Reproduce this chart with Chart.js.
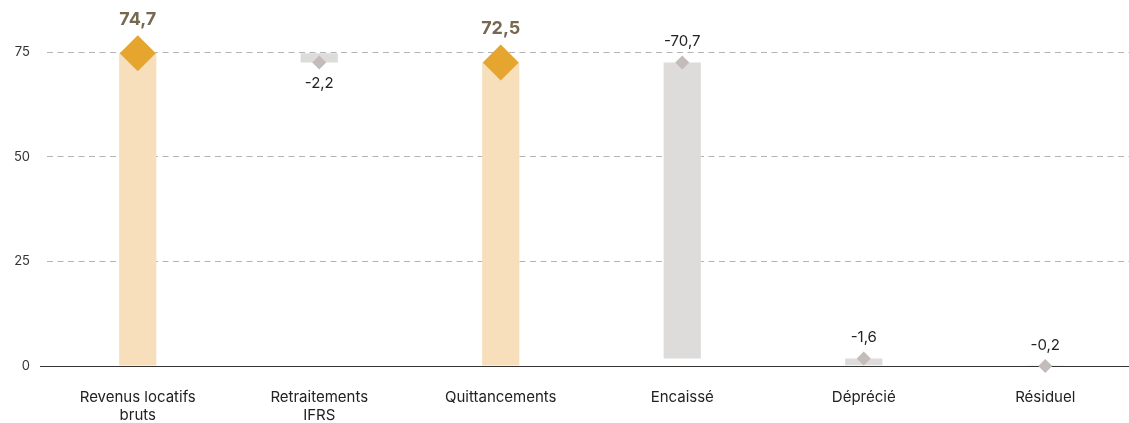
<!DOCTYPE html>
<html lang="fr">
<head>
<meta charset="utf-8">
<title>Revenus locatifs</title>
<script src="https://cdn.jsdelivr.net/npm/chart.js@4/dist/chart.umd.min.js"></script>
<style>
  html, body { margin: 0; padding: 0; background: #fff; overflow: hidden; }
  #wrap { width: 1129px; height: 423px; overflow: hidden; }
  #waterfall { display: block; }
</style>
</head>
<body>
<!-- the plot runs slightly past the right edge of the frame -->
<div id="wrap"><canvas id="waterfall" width="1136" height="423"></canvas></div>
<script>
const categories = [["Revenus locatifs", "bruts"], ["Retraitements", "IFRS"], "Quittancements", "Encaissé", "Déprécié", "Résiduel"];
const values = [74.7, -2.2, 72.5, -70.7, -1.6, -0.2];
const isTotal = [true, false, true, false, false, false];
// where each diamond sits on the y axis
const markerValues = [74.7, 72.5, 72.5, 72.5, 1.8, 0];
const yTicks = [0, 25, 50, 75];

const TOTAL_BAR = "#f7dfbb";
const TOTAL_MARK = "#e5a52f";
const STEP_BAR = "#dedbdb";
const STEP_MARK = "#c3bcb9";
const FONT = "Inter, 'Noto Sans', sans-serif";

// floating bars: totals start at zero, steps hang from the running total
let running = 0;
const ranges = values.map((v, i) => {
  if (isTotal[i]) { running = v; return [0, v]; }
  const r = [running, +(running + v).toFixed(1)];
  running = r[1];
  return r;
});

const fmt = v => v.toFixed(1).replace(".", ",");

const valueLabels = {
  id: "valueLabels",
  afterDatasetsDraw(chart) {
    const { ctx, scales: { x, y } } = chart;
    ctx.save();
    ctx.textAlign = "center";
    ctx.textBaseline = "middle";
    values.forEach((v, i) => {
      const cx = x.getPixelForValue(i);
      const my = y.getPixelForValue(markerValues[i]);
      if (isTotal[i]) {
        ctx.font = "bold 18px " + FONT;
        ctx.fillStyle = "#76694f";
        ctx.fillText(fmt(v), cx, my - 34);
      } else {
        const lo = Math.min(...ranges[i]);
        const below = markerValues[i] === lo && lo > 0;
        ctx.font = "15px " + FONT;
        ctx.fillStyle = "#222";
        ctx.fillText(fmt(v), cx, below ? my + 21 : my - 21);
      }
    });
    ctx.restore();
  }
};

// solid baseline at zero, a little wider than the grid
const zeroLine = {
  id: "zeroLine",
  beforeDatasetsDraw(chart) {
    const { ctx, chartArea, scales: { y } } = chart;
    const py = Math.round(y.getPixelForValue(0)) + 0.5;
    ctx.save();
    ctx.strokeStyle = "#333";
    ctx.lineWidth = 1;
    ctx.beginPath();
    ctx.moveTo(chartArea.left - 7, py);
    ctx.lineTo(chartArea.right, py);
    ctx.stroke();
    ctx.restore();
  }
};

new Chart(document.getElementById("waterfall").getContext("2d"), {
  data: {
    labels: categories,
    datasets: [
      {
        type: "scatter",
        data: markerValues.map((v, i) => ({ x: i, y: v })),
        pointStyle: "rectRot",
        pointRadius: isTotal.map(t => t ? 18 : 7),
        pointBackgroundColor: isTotal.map(t => t ? TOTAL_MARK : STEP_MARK),
        pointBorderWidth: 0,
        showLine: false,
        clip: false
      },
      {
        type: "bar",
        data: ranges,
        backgroundColor: isTotal.map(t => t ? TOTAL_BAR : STEP_BAR),
        borderWidth: 0,
        barPercentage: 0.205,
        categoryPercentage: 1
      }
    ]
  },
  options: {
    responsive: false,
    animation: false,
    layout: { autoPadding: false, padding: { top: 52, right: 0, bottom: 0, left: 0 } },
    plugins: { legend: { display: false }, tooltip: { enabled: false } },
    scales: {
      x: {
        type: "category",
        offset: true,
        afterFit: axis => { axis.height = 57; },
        grid: { display: false, drawTicks: false },
        border: { display: false },
        ticks: { color: "#222", font: { family: FONT, size: 15 }, padding: 22, maxRotation: 0 }
      },
      y: {
        min: 0,
        max: 75,
        afterBuildTicks: axis => { axis.ticks = yTicks.map(v => ({ value: v })); },
        afterFit: axis => { axis.width = 47; },
        grid: {
          color: ctx => ctx.tick && ctx.tick.value === 0 ? "rgba(0,0,0,0)" : "#b3b3b3",
          drawTicks: false,
          lineWidth: 1
        },
        border: { display: false, dash: [6, 4.5] },
        ticks: { color: "#333", font: { family: FONT, size: 13 }, padding: 17 }
      }
    }
  },
  plugins: [zeroLine, valueLabels]
});
</script>
</body>
</html>
